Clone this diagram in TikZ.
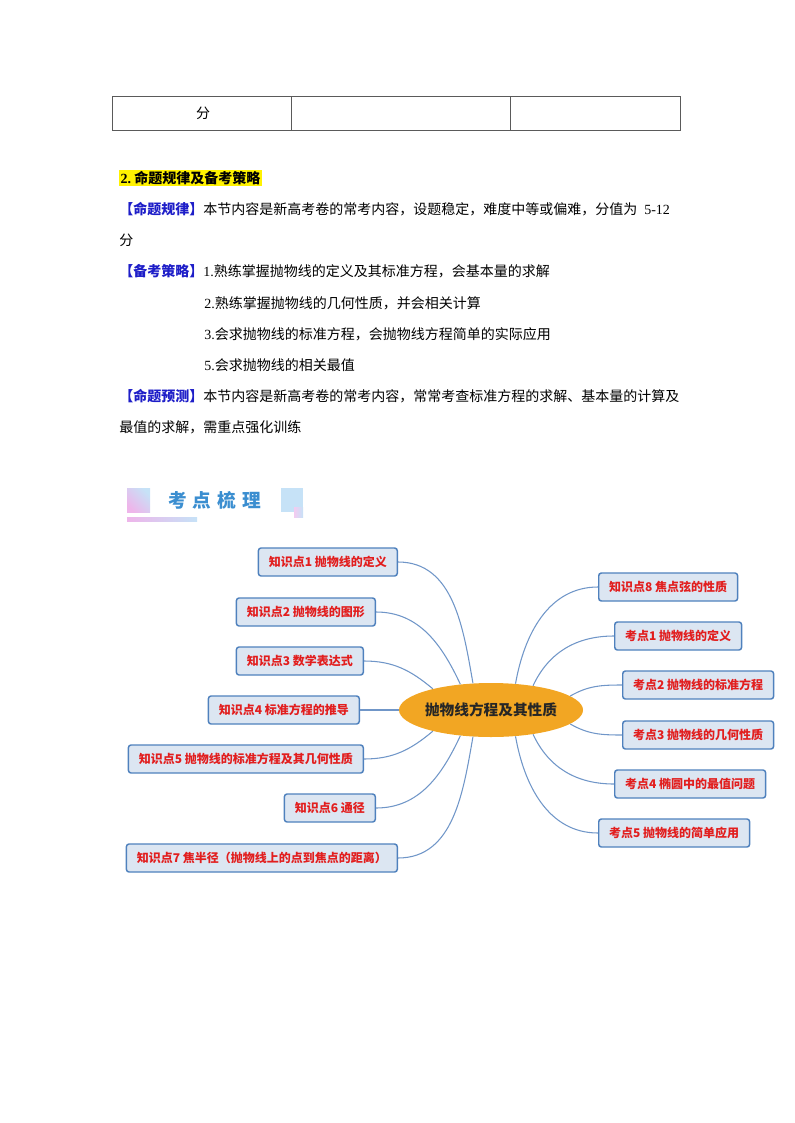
\documentclass[tikz,border=0pt]{standalone}
\usepackage{fontspec}
\setmainfont{Noto Sans CJK SC}
\newfontfamily\latin{Liberation Serif}
\newfontfamily\headfont[LetterSpace=32]{Noto Sans CJK SC}
\usetikzlibrary{shapes.geometric}

\definecolor{labelblue}{RGB}{30,30,200}
\definecolor{boxfill}{RGB}{220,230,242}
\definecolor{boxline}{RGB}{79,129,189}
\definecolor{boxred}{RGB}{226,30,30}
\definecolor{linkblue}{RGB}{112,150,200}
\definecolor{centre}{RGB}{242,166,35}
\definecolor{darktext}{RGB}{38,38,38}
\definecolor{headblue}{RGB}{59,142,208}
\definecolor{decopink}{RGB}{238,181,234}
\definecolor{decoblue}{RGB}{198,226,247}

\newcommand\lbl[1]{\textcolor{labelblue}{\bfseries #1}}

\tikzset{
  body/.style={anchor=west, inner sep=0pt, font=\fontsize{10.5}{12}\selectfont},
  kbox/.style={draw=boxline, fill=boxfill, rounded corners=2pt, line width=1.1pt,
    text=boxred, font=\fontsize{9}{10}\selectfont\bfseries,
    minimum height=21pt, inner xsep=7.8pt, inner ysep=0pt},
  link/.style={draw=linkblue, line width=0.8pt},
}

\begin{document}
\begin{tikzpicture}[x=0.75pt,y=0.75pt,yscale=-1,xscale=1]
\useasboundingbox (0,0) rectangle (794,1123);

% Table row
\draw [color={rgb, 255:red, 90; green, 90; blue, 90 }, line width=0.75] (112,97) rectangle (680,131) ;
\draw [color={rgb, 255:red, 90; green, 90; blue, 90 }, line width=0.75] (291,97) -- (291,131) ;
\draw [color={rgb, 255:red, 90; green, 90; blue, 90 }, line width=0.75] (510,97) -- (510,131) ;
\draw (203,113) node (fen) [font=\fontsize{10.5}{12}\selectfont, inner sep=0pt] {分};

% Text Node
\draw (119,178) node (h2) [anchor=west, fill=yellow, inner sep=1pt, font=\fontsize{10.5}{12}\selectfont\bfseries] {{\latin\bfseries 2.}\ 命题规律及备考策略};
% Text Node
\draw (119,209) node (r1) [body] {\lbl{【命题规律】}本节内容是新高考卷的常考内容，设题稳定，难度中等或偏难，分值为{\latin\ \ 5-12}};
\draw (119,240) node (r2) [body] {分};
% Text Node
\draw (119,271) node (s1) [body] {\lbl{【备考策略】}{\latin 1.}熟练掌握抛物线的定义及其标准方程，会基本量的求解};
\draw (204,303) node (s2) [body] {{\latin 2.}熟练掌握抛物线的几何性质，并会相关计算};
\draw (204,334) node (s3) [body] {{\latin 3.}会求抛物线的标准方程，会抛物线方程简单的实际应用};
\draw (204,365) node (s5) [body] {{\latin 5.}会求抛物线的相关最值};
% Text Node
\draw (119,396) node (y1) [body] {\lbl{【命题预测】}本节内容是新高考卷的常考内容，常常考查标准方程的求解、基本量的计算及};
\draw (119,427) node (y2) [body] {最值的求解，需重点强化训练};

% Heading decoration
\shade [left color=decopink, right color=decoblue, shading angle=135] (127,488) rectangle (150,512) ;
\shade [left color=decopink, right color=decoblue] (127,517) rectangle (197,521) ;
\fill [decoblue] (281,488) rectangle (303,512) ;
\shade [left color=decopink!70, right color=decoblue] (294,507) rectangle (303,517) ;
\draw (168,500) node (kd) [anchor=west, inner sep=0pt, text=headblue, font=\headfont\fontsize{14}{15}\selectfont\bfseries] {考点梳理};

% Centre
\draw (491,710) node (c) [ellipse, fill=centre, minimum width=138pt, minimum height=40.5pt, inner sep=0pt] {};
\draw (491,710) node (ct) [inner sep=0pt, text=darktext, font=\fontsize{11}{12}\selectfont\bfseries] {抛物线方程及其性质};

% Left branches
\draw (398,562) node (k1) [kbox, anchor=east] {知识点1 抛物线的定义};
\draw (376,612) node (k2) [kbox, anchor=east] {知识点2 抛物线的图形};
\draw (364,661) node (k3) [kbox, anchor=east] {知识点3 数学表达式};
\draw (360,710) node (k4) [kbox, anchor=east] {知识点4 标准方程的推导};
\draw (364,759) node (k5) [kbox, anchor=east] {知识点5 抛物线的标准方程及其几何性质};
\draw (376,808) node (k6) [kbox, anchor=east] {知识点6 通径};
\draw (398,858) node (k7) [kbox, anchor=east] {知识点7 焦半径（抛物线上的点到焦点的距离）};

% Right branches
\draw (598,587) node (k8) [kbox, anchor=west, minimum width=103.5pt] {知识点8 焦点弦的性质};
\draw (614,636) node (p1) [kbox, anchor=west] {考点1 抛物线的定义};
\draw (622,685) node (p2) [kbox, anchor=west, minimum width=111.75pt] {考点2 抛物线的标准方程};
\draw (622,735) node (p3) [kbox, anchor=west, minimum width=111.75pt] {考点3 抛物线的几何性质};
\draw (614,784) node (p4) [kbox, anchor=west, minimum width=111.75pt] {考点4 椭圆中的最值问题};
\draw (598,833) node (p5) [kbox, anchor=west, minimum width=111.75pt] {考点5 抛物线的简单应用};

% Connectors (yscale=-1: angles are mirrored)
\draw [link] (k1.east) to[out=0, in=-100] (c.124) ;
\draw [link] (k2.east) to[out=0, in=-115] (c.140) ;
\draw [link] (k3.east) to[out=0, in=-140] (c.160) ;
\draw [link] (k4.east) -- (c.180) ;
\draw [link] (k5.east) to[out=0, in=140] (c.200) ;
\draw [link] (k6.east) to[out=0, in=115] (c.220) ;
\draw [link] (k7.east) to[out=0, in=100] (c.236) ;
\draw [link] (c.47) to[out=-80, in=180] (k8.west) ;
\draw [link] (c.30) to[out=-65, in=180] (p1.west) ;
\draw [link] (c.10) to[out=-30, in=180] (p2.west) ;
\draw [link] (c.350) to[out=30, in=180] (p3.west) ;
\draw [link] (c.330) to[out=65, in=180] (p4.west) ;
\draw [link] (c.313) to[out=80, in=180] (p5.west) ;

\end{tikzpicture}
\end{document}
